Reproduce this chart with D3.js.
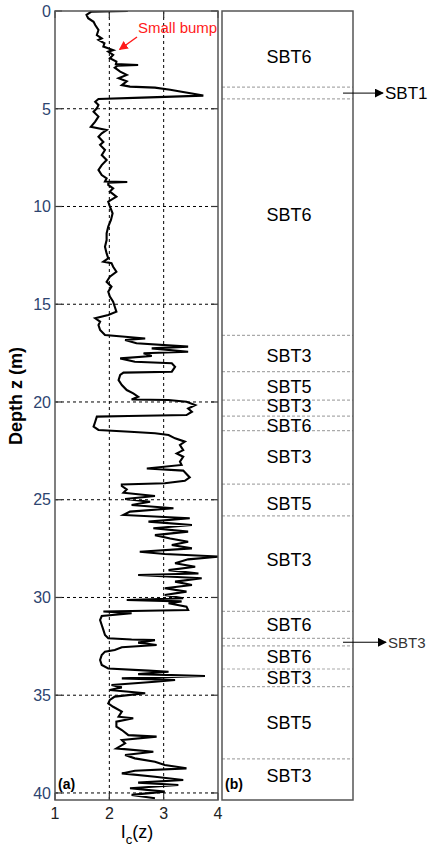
<!DOCTYPE html>
<html>
<head>
<meta charset="utf-8">
<script src="https://cdn.jsdelivr.net/npm/d3@7"></script>
<style>
html,body{margin:0;padding:0;background:#fff;}
svg{display:block;font-family:"Liberation Sans",Arial,sans-serif;}
</style>
</head>
<body>
<svg id="chart" width="432" height="846"></svg>
<script>
// ---- Data ----
const depth = [0.00,0.03,0.20,0.37,0.55,0.72,0.97,1.23,1.40,1.48,1.65,1.82,2.00,2.08,2.25,2.42,2.59,2.72,2.76,2.80,2.90,3.10,3.27,3.44,3.60,3.79,3.87,3.92,4.03,4.13,4.22,4.33,4.43,4.50,4.64,4.81,4.98,5.15,5.40,5.66,5.92,6.09,6.26,6.43,6.70,6.85,7.11,7.37,7.62,7.88,8.13,8.39,8.56,8.72,8.75,8.78,8.90,9.07,9.24,9.50,9.75,10.00,10.35,10.69,11.03,11.37,11.72,12.06,12.40,12.65,12.82,12.90,13.08,13.34,13.59,13.85,14.10,14.36,14.61,14.87,15.13,15.38,15.55,15.72,15.89,16.06,16.32,16.57,16.66,16.75,16.83,17.00,17.17,17.26,17.43,17.51,17.65,17.77,17.94,18.02,18.20,18.45,18.50,18.62,18.88,19.13,19.39,19.56,19.73,19.87,19.90,19.99,20.16,20.33,20.50,20.67,20.72,20.75,21.01,21.26,21.43,21.52,21.60,21.69,21.86,22.03,22.20,22.46,22.63,22.80,23.05,23.22,23.40,23.51,23.68,23.86,24.03,24.16,24.22,24.30,24.47,24.64,24.81,24.96,25.10,25.27,25.44,25.61,25.78,25.95,26.12,26.29,26.46,26.63,26.81,26.98,27.15,27.32,27.49,27.66,27.78,27.91,28.05,28.25,28.43,28.60,28.77,28.85,29.02,29.19,29.36,29.53,29.70,29.87,30.04,30.13,30.20,30.30,30.47,30.64,30.72,30.81,30.95,31.15,31.41,31.66,31.92,32.09,32.15,32.18,32.31,32.43,32.55,32.69,32.77,32.94,33.20,33.45,33.63,33.74,33.80,33.92,34.02,34.14,34.22,34.31,34.48,34.60,34.73,34.90,35.07,35.24,35.42,35.59,35.84,36.10,36.18,36.35,36.61,36.78,37.04,37.12,37.29,37.46,37.72,37.89,38.06,38.23,38.40,38.57,38.74,38.86,39.00,39.17,39.34,39.47,39.59,39.76,39.93,40.10,40.27];
const ic = [2.34,1.67,1.58,1.61,1.71,1.74,1.80,1.77,1.86,1.80,1.91,1.89,2.07,1.98,2.07,2.01,2.13,2.12,2.53,2.15,2.10,2.20,2.32,2.17,2.32,2.23,2.38,2.84,3.12,3.33,3.52,3.73,2.60,1.80,1.74,1.80,1.77,1.71,1.80,1.74,1.66,1.95,1.86,1.80,1.89,1.83,1.92,1.86,1.95,1.86,1.80,1.86,1.95,1.92,2.33,1.98,1.98,2.07,2.01,2.13,1.98,2.01,2.06,2.03,1.98,1.95,1.95,1.92,1.95,1.98,1.89,2.04,2.07,2.13,2.01,1.95,2.04,1.98,2.01,2.07,2.10,2.13,1.98,1.74,1.83,1.80,1.83,1.92,2.29,2.66,2.29,2.50,3.45,2.78,3.45,2.63,2.78,2.20,2.47,3.15,3.21,3.15,2.26,2.20,2.17,2.23,2.32,2.44,2.53,2.41,3.09,3.42,3.58,3.45,3.52,3.42,2.35,1.77,1.74,1.71,1.80,2.38,2.84,3.09,3.21,3.39,3.30,3.36,3.24,3.36,3.30,3.33,2.69,3.36,3.42,3.48,3.39,3.02,2.23,2.23,2.32,2.26,2.84,2.29,2.75,2.41,3.18,2.38,2.26,3.48,2.72,3.52,2.81,3.45,2.84,3.12,3.45,3.15,3.52,2.56,3.02,4.04,3.45,3.21,3.58,3.09,3.64,2.53,3.70,3.21,3.52,3.02,3.42,3.02,3.36,2.32,3.33,3.09,3.42,3.45,1.89,2.41,1.86,1.83,1.86,1.89,1.92,1.98,2.41,2.84,2.53,2.87,2.23,2.10,1.92,1.86,1.83,1.86,1.98,2.72,3.09,2.53,3.76,2.23,3.21,2.84,2.04,2.23,2.01,2.66,2.10,2.01,1.98,2.07,2.23,2.17,2.44,2.13,2.13,2.23,2.35,2.87,2.23,2.29,2.13,2.81,2.29,2.47,2.84,3.02,3.42,2.47,2.23,2.84,3.36,2.53,3.27,2.38,3.02,2.41,2.84];

const layerTop    = [0, 3.89, 4.50, 16.59, 18.45, 19.90, 20.72, 21.47, 24.20, 25.83, 30.71, 32.09, 32.48, 33.66, 34.56, 38.26];
const layerBottom = [3.89, 4.50, 16.59, 18.45, 19.90, 20.72, 21.47, 24.20, 25.83, 30.71, 32.09, 32.48, 33.66, 34.56, 38.26, 40.36];
const layerName   = ["SBT6","SBT1","SBT6","SBT3","SBT5","SBT3","SBT6","SBT3","SBT5","SBT3","SBT6","SBT3","SBT6","SBT3","SBT5","SBT3"];
const labelDepth  = [2.35, null, 10.43, 17.6, 19.2, 20.17, 21.22, 22.8, 25.17, 28.08, 31.36, null, 33.0, 34.08, 36.42, 39.13];

const calloutName  = ["SBT1", "SBT3"];
const calloutDepth = [4.20, 32.29];

const xTicks = [1, 2, 3, 4];
const yTicks = [0, 5, 10, 15, 20, 25, 30, 35, 40];
const gridX = [2, 3];

const bumpDepth = 2.02, bumpIc = 2.17;

// ---- Layout ----
const svg = d3.select("#chart");
const A = {x0: 55, x1: 218, y0: 11, y1: 800};
const B = {x0: 222, x1: 353};
const x = d3.scaleLinear().domain([1, 4]).range([A.x0, A.x1]);
const y = d3.scaleLinear().domain([0, 40.36]).range([A.y0, A.y1]);
const tickBlue = "#2d4470";

const defs = svg.append("defs");
defs.append("clipPath").attr("id", "clipA").append("rect")
  .attr("x", A.x0).attr("y", A.y0).attr("width", A.x1 - A.x0).attr("height", A.y1 - A.y0);
defs.append("marker").attr("id", "arrBlack").attr("viewBox", "0 0 10 10")
  .attr("refX", 9).attr("refY", 5).attr("markerWidth", 9).attr("markerHeight", 9)
  .attr("markerUnits", "userSpaceOnUse").attr("orient", "auto")
  .append("path").attr("d", "M0,0 L10,5 L0,10 z").attr("fill", "#000");
defs.append("marker").attr("id", "arrRed").attr("viewBox", "0 0 10 10")
  .attr("refX", 9).attr("refY", 5).attr("markerWidth", 9).attr("markerHeight", 9)
  .attr("markerUnits", "userSpaceOnUse").attr("orient", "auto")
  .append("path").attr("d", "M0,0 L10,5 L0,10 z").attr("fill", "#ff1a1a");

// Panel (a) grid
const ga = svg.append("g");
ga.selectAll("line.gx").data(gridX).enter().append("line")
  .attr("x1", d => x(d)).attr("x2", d => x(d)).attr("y1", A.y0).attr("y2", A.y1)
  .attr("stroke", "#000").attr("stroke-width", 1).attr("stroke-dasharray", "3,3");
ga.selectAll("line.gy").data(yTicks.filter(d => d > 0)).enter().append("line")
  .attr("x1", A.x0).attr("x2", A.x1).attr("y1", d => y(d)).attr("y2", d => y(d))
  .attr("stroke", "#000").attr("stroke-width", 1).attr("stroke-dasharray", "3,3");

// inward ticks
const tl = 7;
ga.selectAll("line.tl").data(yTicks).enter().append("line")
  .attr("x1", A.x0).attr("x2", A.x0 + tl).attr("y1", d => y(d)).attr("y2", d => y(d))
  .attr("stroke", "#333").attr("stroke-width", 1.2);
ga.selectAll("line.tr").data(yTicks).enter().append("line")
  .attr("x1", A.x1 - tl).attr("x2", A.x1).attr("y1", d => y(d)).attr("y2", d => y(d))
  .attr("stroke", "#333").attr("stroke-width", 1.2);
ga.selectAll("line.tb").data(xTicks).enter().append("line")
  .attr("x1", d => x(d)).attr("x2", d => x(d)).attr("y1", A.y1 - tl).attr("y2", A.y1)
  .attr("stroke", "#333").attr("stroke-width", 1.2);
ga.selectAll("line.tt").data(xTicks).enter().append("line")
  .attr("x1", d => x(d)).attr("x2", d => x(d)).attr("y1", A.y0).attr("y2", A.y0 + tl)
  .attr("stroke", "#333").attr("stroke-width", 1.2);

// curve
const pts = depth.map((d, i) => [ic[i], d]);
svg.append("path").datum(pts)
  .attr("clip-path", "url(#clipA)")
  .attr("d", d3.line().x(d => x(d[0])).y(d => y(d[1])))
  .attr("fill", "none").attr("stroke", "#000").attr("stroke-width", 2.1).attr("stroke-linejoin", "miter");

// Panel (a) frame
svg.append("rect").attr("x", A.x0).attr("y", A.y0).attr("width", A.x1 - A.x0).attr("height", A.y1 - A.y0)
  .attr("fill", "none").attr("stroke", "#555").attr("stroke-width", 1.5);

// tick labels
svg.selectAll("text.yt").data(yTicks).enter().append("text")
  .attr("x", 51).attr("y", d => y(d)).attr("dy", "0.36em").attr("text-anchor", "end")
  .attr("font-size", 16).attr("fill", tickBlue).text(d => d);
svg.selectAll("text.xt").data(xTicks).enter().append("text")
  .attr("x", d => x(d)).attr("y", 819).attr("text-anchor", "middle")
  .attr("font-size", 16).attr("fill", "#222").text(d => d);

// axis titles
svg.append("text").attr("transform", "translate(22," + 396 + ") rotate(-90)")
  .attr("text-anchor", "middle").attr("font-size", 18).attr("font-weight", "bold").attr("fill", "#000")
  .text("Depth z (m)");
const xl = svg.append("text").attr("x", 137).attr("y", 838).attr("text-anchor", "middle")
  .attr("font-size", 18).attr("fill", "#000");
xl.append("tspan").text("I");
xl.append("tspan").attr("font-size", 13).attr("dy", 6).text("c");
xl.append("tspan").attr("dy", -6).text("(z)");

svg.append("text").attr("x", 58).attr("y", 789).attr("font-size", 14).attr("font-weight", "bold").text("(a)");

// small bump annotation
svg.append("line").attr("x1", 137).attr("y1", 37).attr("x2", x(bumpIc) + 1).attr("y2", y(bumpDepth) - 1)
  .attr("stroke", "#ff1a1a").attr("stroke-width", 1.5).attr("marker-end", "url(#arrRed)");
svg.append("text").attr("x", 138).attr("y", 33).attr("font-size", 15).attr("fill", "#ff1a1a").text("Small bump");

// Panel (b)
const gb = svg.append("g");
const bounds = layerTop.slice(1);
gb.selectAll("line.lb").data(bounds).enter().append("line")
  .attr("x1", B.x0).attr("x2", B.x1).attr("y1", d => y(d)).attr("y2", d => y(d))
  .attr("stroke", "#aaa").attr("stroke-width", 1.2).attr("stroke-dasharray", "3,2");
gb.selectAll("text.ln").data(layerName.map((n, i) => ({n, d: labelDepth[i]})).filter(o => o.d !== null))
  .enter().append("text")
  .attr("x", 289).attr("y", o => y(o.d)).attr("dy", "0.36em").attr("text-anchor", "middle")
  .attr("font-size", 18).attr("fill", "#000").text(o => o.n);
svg.append("rect").attr("x", B.x0).attr("y", A.y0).attr("width", B.x1 - B.x0).attr("height", A.y1 - A.y0)
  .attr("fill", "none").attr("stroke", "#555").attr("stroke-width", 1.5);
svg.append("text").attr("x", 225).attr("y", 789).attr("font-size", 14).attr("font-weight", "bold").text("(b)");

// callouts
calloutName.forEach((n, i) => {
  const yy = y(calloutDepth[i]);
  const xe = i === 0 ? 383 : 386;
  svg.append("line").attr("x1", 343).attr("x2", xe).attr("y1", yy).attr("y2", yy)
    .attr("stroke", "#000").attr("stroke-width", 1).attr("marker-end", "url(#arrBlack)");
  svg.append("text").attr("x", xe + 2).attr("y", yy).attr("dy", "0.36em")
    .attr("font-size", i === 0 ? 17 : 15).attr("fill", i === 0 ? "#000" : "#333").text(n);
});
</script>
</body>
</html>
